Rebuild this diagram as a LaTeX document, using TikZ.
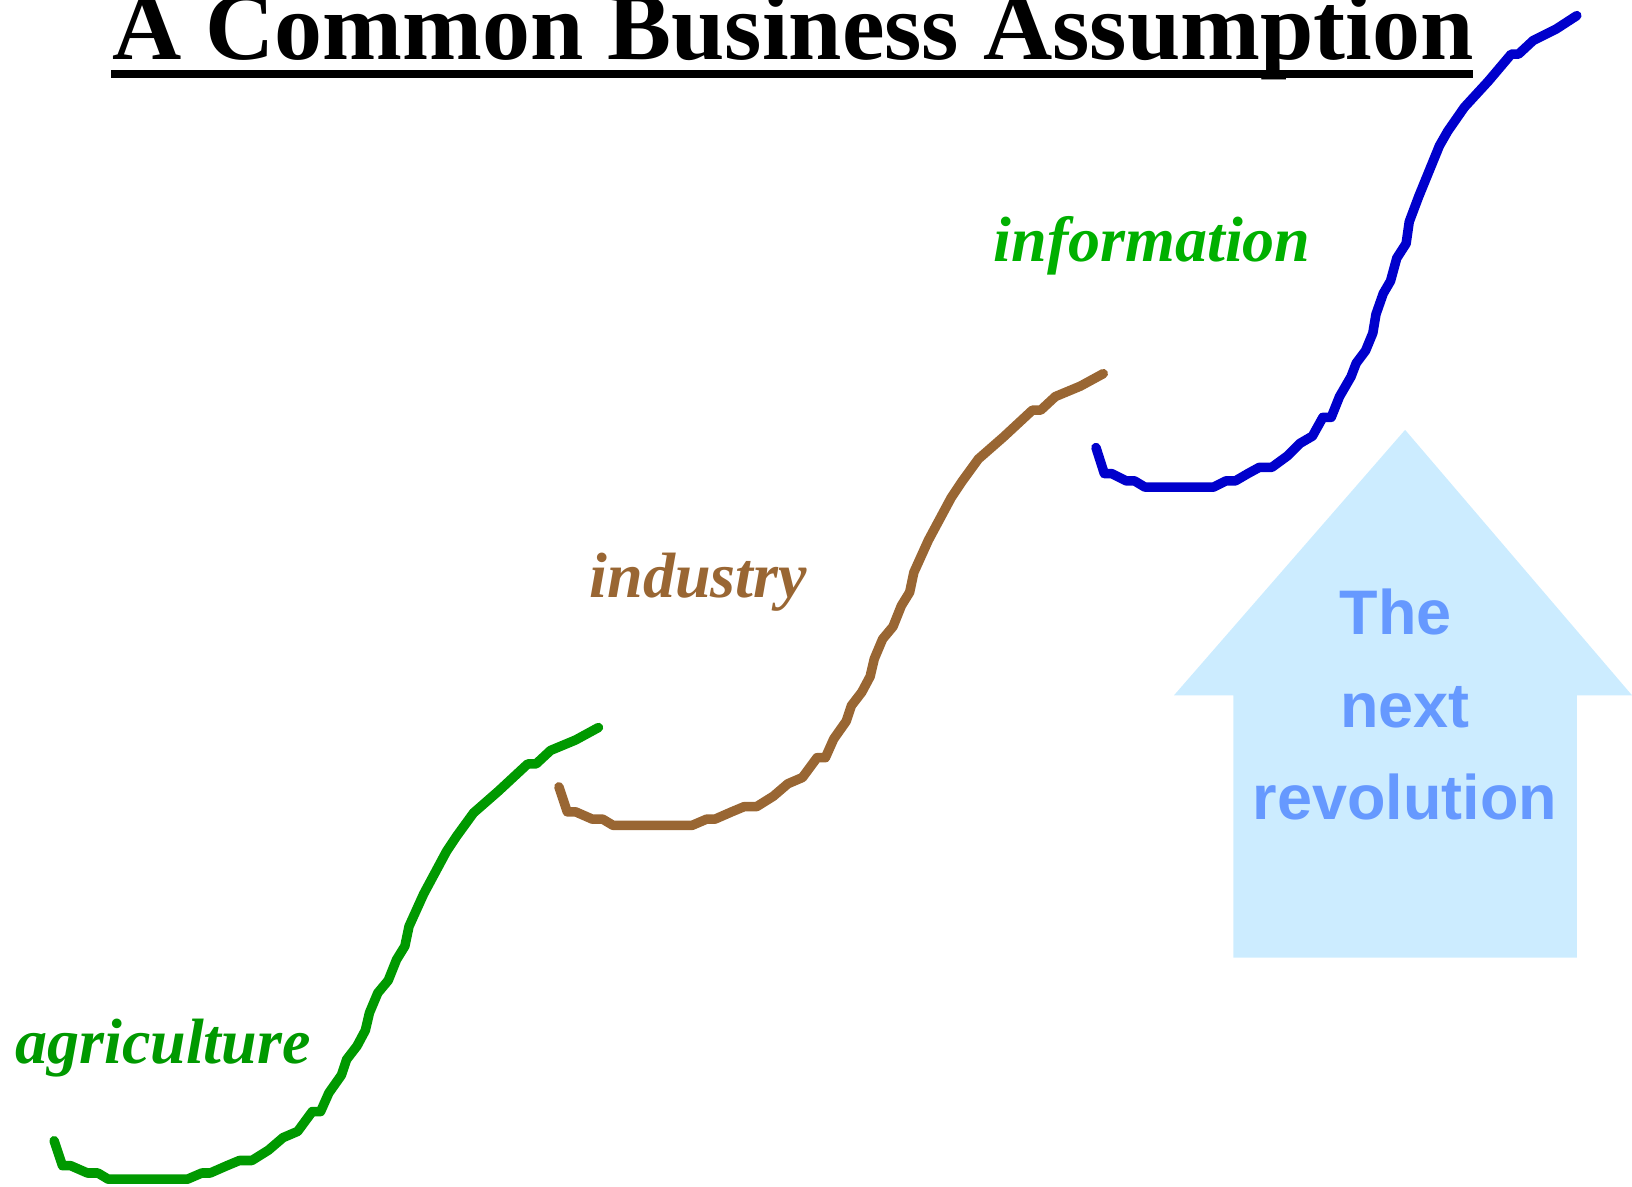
\documentclass[tikz,border=0pt]{standalone}
\usepackage{fontspec}
\setmainfont{Liberation Serif}
\newfontfamily\arrowfont{Liberation Sans}
\definecolor{agrigreen}{RGB}{0,153,0}
\definecolor{infogreen}{RGB}{0,176,0}
\definecolor{indbrown}{RGB}{153,102,51}
\definecolor{curveblue}{RGB}{0,0,204}
\definecolor{arrowfill}{RGB}{204,236,255}
\definecolor{arrowtext}{RGB}{102,153,255}
\begin{document}
\begin{tikzpicture}[x=0.01cm,y=-0.01cm,
  curve/.style={line width=2.6pt,line join=round,line cap=round},
  lbl/.style={inner sep=0,anchor=base west,font=\fontsize{17.5}{20}\selectfont\bfseries\itshape},
  revtext/.style={inner sep=0,anchor=base,text=arrowtext,font=\arrowfont\fontsize{17.2}{20}\selectfont\bfseries}]
\useasboundingbox (0,0) rectangle (1568,1140);
% big arrow
\fill[arrowfill] (1350,413) -- (1568,668) -- (1515,668) -- (1515,920) -- (1185,920) -- (1185,668) -- (1128,668) -- cycle;
\node[revtext] (the) at (1341,610) {The};
\node[revtext] (next) at (1350,699) {next};
\node[revtext] (rev) at (1350,787) {revolution};
% title
\node[inner sep=0,anchor=base west,font=\fontsize{26.2}{30}\selectfont\bfseries] (title) at (107,57) {A Common Business Assumption};
\fill (107,67) rectangle (1415,75);
% agriculture and industry S-curves (same shape)
\foreach \dx/\dy/\c in {0/0/agrigreen, 485/-340/indbrown}
  \draw[curve,\c,shift={(\dx,\dy)}] (52,1096) -- (60,1120) -- (68,1120) -- (84,1127) -- (94,1127) -- (104,1133) -- (180,1133) -- (194,1127) -- (202,1127) -- (218,1120) -- (230,1115) -- (242,1115) -- (258,1105) -- (272,1093) -- (286,1087) -- (300,1068) -- (308,1068) -- (316,1050) -- (328,1033) -- (333,1018) -- (343,1005) -- (351,990) -- (355,973) -- (363,954) -- (373,942) -- (381,922) -- (389,909) -- (393,890) -- (407,859) -- (429,818) -- (439,803) -- (455,781) -- (479,760) -- (507,734) -- (515,734) -- (529,721) -- (553,711) -- (575,699);
% information curve
\draw[curve,curveblue] (1053,430) -- (1061,455) -- (1068,455) -- (1082,462) -- (1090,462) -- (1100,468) -- (1166,468) -- (1178,462) -- (1187,462) -- (1199,455) -- (1210,449) -- (1222,449) -- (1237,438) -- (1249,426) -- (1261,419) -- (1271,401) -- (1279,401) -- (1287,381) -- (1298,362) -- (1303,349) -- (1312,337) -- (1319,320) -- (1322,302) -- (1329,282) -- (1336,270) -- (1342,248) -- (1351,234) -- (1354,213) -- (1363,189) -- (1383,140) -- (1391,126) -- (1407,103) -- (1430,78) -- (1452,52) -- (1459,52) -- (1473,39) -- (1495,28) -- (1515,15);
% labels
\node[lbl,text=agrigreen] (agri) at (14,1022) {agriculture};
\node[lbl,text=indbrown] (indu) at (566,574) {industry};
\node[lbl,text=infogreen] (info) at (954,251) {information};
\end{tikzpicture}
\end{document}
